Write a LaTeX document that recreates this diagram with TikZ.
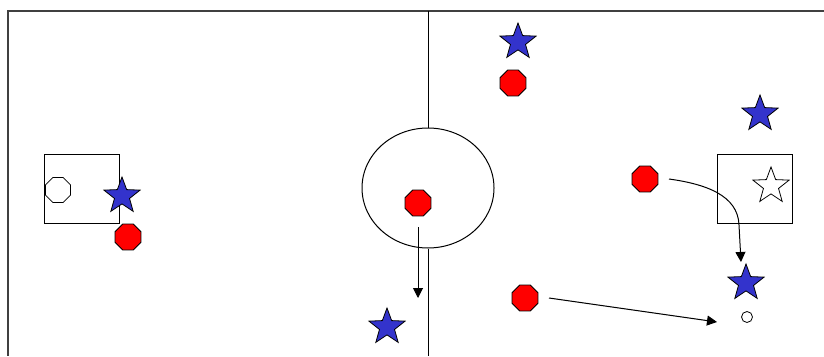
\documentclass[tikz,border=0pt]{standalone}
\usepackage{tikz}
\usetikzlibrary{arrows.meta, positioning, shapes.geometric}
\definecolor{bluscuro}{RGB}{51,51,204}
\definecolor{bordo}{RGB}{64,64,64}

\begin{document}
\begin{tikzpicture}[x=1pt, y=-1pt,
	rosso/.style={regular polygon, regular polygon sides=8, draw=black, fill=red, minimum size=28pt, inner sep=0pt, line width=0.8pt},
	blu/.style={star, star points=5, star point ratio=2.4, draw=black, fill=bluscuro, minimum size=38pt, inner sep=0pt, line width=0.8pt},
	vuota/.style={blu, fill=white},
	porta/.style={draw=black, line width=1pt, minimum width=75pt, minimum height=69pt, inner sep=0pt},
	freccia/.style={-{Triangle[length=10pt,width=10pt]}, line width=1pt}]
	\useasboundingbox (0,0) rectangle (824,356);
	% Campo
	\draw[line width=2pt, draw=bordo] (824,11) -- (8,11) -- (8,356);
	\node[ellipse, draw=black, line width=1pt, minimum width=132pt, minimum height=120pt, inner sep=0pt] (cerchio) at (428,188) {};
	\draw[line width=1pt] (428,11) -- (cerchio.north);
	\draw[line width=1pt] (cerchio.south) -- (428,356);
	% Porte
	\node[porta] (portaS) at (81.5,188.5) {};
	\node[regular polygon, regular polygon sides=8, draw=black, fill=white, minimum size=27pt, inner sep=0pt, line width=0.8pt] (palo) at (58,190) {};
	\node[porta] (portaD) at (754.5,188.5) {};
	\node[vuota] (portiere) at (771,186) {};
	% Giocatori
	\node[blu] (b1) at (122,196) {};
	\node[rosso] (r1) at (128,237) {};
	\node[rosso] (r2) at (418,203) {};
	\node[blu] (b2) at (387,327) {};
	\node[blu] (b3) at (518,42) {};
	\node[rosso] (r3) at (513,83) {};
	\node[blu] (b4) at (760,114) {};
	\node[rosso] (r4) at (645,179) {};
	\node[blu] (b5) at (746,283) {};
	\node[rosso] (r5) at (525,298) {};
	\node[circle, draw=black, fill=white, minimum size=11pt, inner sep=0pt, line width=0.8pt] (palla) at (747,317) {};
	% Movimenti
	\coordinate (a1) at (418,227);
	\coordinate (a2) at (418,298);
	\coordinate (c1) at (669,179);
	\coordinate (c2) at (741,262);
	\coordinate (d1) at (549,298);
	\coordinate (d2) at (717,322);
	\draw[freccia] (a1) -- (a2);
	\draw[freccia] (c1) .. controls (705,184) and (738,195) .. (739,225) -- (c2);
	\draw[freccia] (d1) -- (d2);
\end{tikzpicture}
\end{document}
